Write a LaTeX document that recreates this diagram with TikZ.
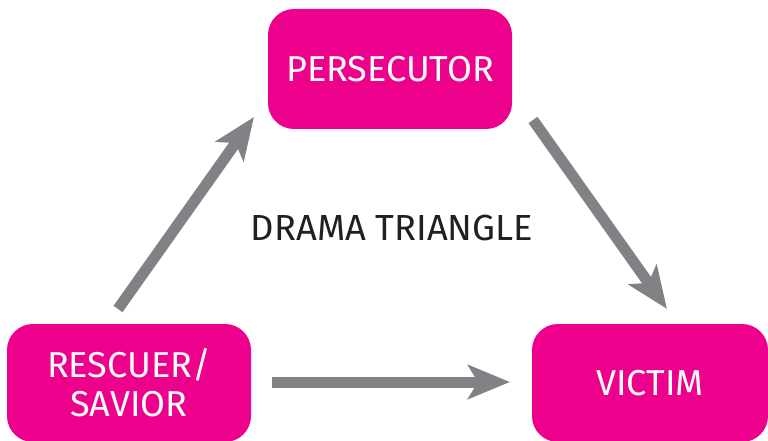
\documentclass[tikz,border=0pt]{standalone}
\usepackage{fontspec}
\setmainfont{Fira Sans}
\usetikzlibrary{arrows.meta}
\definecolor{dtpink}{HTML}{EC008C}
\definecolor{dtgray}{HTML}{808285}
\definecolor{dttext}{HTML}{231F20}
\begin{document}
\begin{tikzpicture}[x=1pt,y=-1pt,
  rolebox/.style={fill=dtpink, draw=none, rounded corners=26pt, inner sep=0pt,
    text=white, font=\fontsize{36}{39}\selectfont, align=center},
  flow/.style={draw=dtgray, line width=11pt,
    -{Stealth[length=42pt,width=34pt,inset=10pt]}}]
\useasboundingbox (0,0) rectangle (768,441);
\node[rolebox, minimum width=244pt, minimum height=120pt] (pers) at (390,69) {PERSECUTOR};
\node[rolebox, minimum width=244pt, minimum height=118pt] (resc) at (129,383) {RESCUER/\\SAVIOR};
\node[rolebox, minimum width=236pt, minimum height=118pt] (vict) at (650,383) {VICTIM};
\node[text=dttext, font=\fontsize{36.3}{40}\selectfont, inner sep=0pt] (title) at (392,228) {DRAMA TRIANGLE};
\coordinate (a1s) at (118,309);
\coordinate (a1e) at (254,117);
\coordinate (a2s) at (533,120);
\coordinate (a2e) at (667,309);
\coordinate (a3s) at (272,382);
\coordinate (a3e) at (510,382);
\draw[flow] (a1s) -- (a1e);
\draw[flow] (a2s) -- (a2e);
\draw[flow] (a3s) -- (a3e);
\end{tikzpicture}
\end{document}
